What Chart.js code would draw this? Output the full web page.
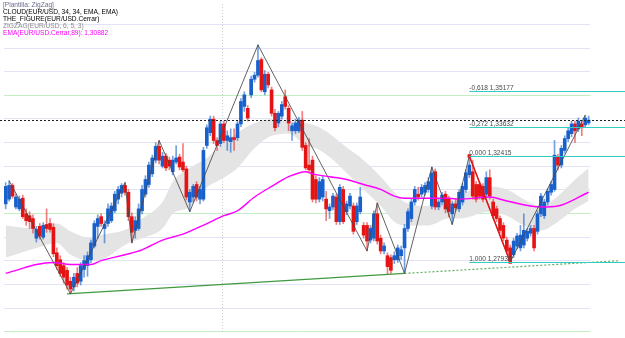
<!DOCTYPE html>
<html>
<head>
<meta charset="utf-8">
<title>ZigZag EUR/USD</title>
<script src="https://cdn.jsdelivr.net/npm/chart.js@4.4.1/dist/chart.umd.min.js"></script>
<style>
  html, body { margin: 0; padding: 0; background: #fff; }
  #wrap { position: relative; width: 625px; height: 338px; overflow: hidden; }
  #legend { position: absolute; left: 3px; top: 1px; font-family: "Liberation Sans", Arial, sans-serif; font-size: 6.6px; line-height: 7px; white-space: nowrap; }
</style>
</head>
<body>
<div id="wrap">
  <canvas id="chart" width="625" height="338"></canvas>
  <div id="legend">
    <div style="color:#6a6a8e">[Plantilla: ZigZag]</div>
    <div style="color:#000">CLOUD(EUR/USD, 34, 34, EMA, EMA)</div>
    <div style="color:#000">THE_FIGURE(EUR/USD.Cerrar)</div>
    <div style="color:#8a8a8a">ZIGZAG(EUR/USD, 6, 5, 3)</div>
    <div style="color:#ff00ff">EMA(EUR/USD.Cerrar,89): 1,30882</div>
  </div>
</div>
<script>
// candles (EUR/USD)
const opens = [
  1.3039, 1.3059, 1.3117, 1.3026, 1.3018, 1.3063, 1.2997, 1.2989, 1.2977, 1.2894,
  1.2944, 1.2898, 1.2952, 1.2956, 1.2940, 1.2832, 1.2803, 1.2778, 1.2758, 1.2712,
  1.2688, 1.2745, 1.2712, 1.2762, 1.2778, 1.2803, 1.2861, 1.2944, 1.2985, 1.2935,
  1.2956, 1.2968, 1.3010, 1.3059, 1.3084, 1.3117, 1.3088, 1.2985, 1.2927, 1.2935,
  1.3010, 1.3080, 1.3121, 1.3166, 1.3224, 1.3282, 1.3199, 1.3241, 1.3224, 1.3175,
  1.3216, 1.3237, 1.3216, 1.3187, 1.3047, 1.3068, 1.3121, 1.3059, 1.3059, 1.3286,
  1.3340, 1.3397, 1.3307, 1.3294, 1.3377, 1.3307, 1.3302, 1.3319, 1.3319, 1.3377,
  1.3451, 1.3443, 1.3500, 1.3566, 1.3583, 1.3649, 1.3513, 1.3587, 1.3521, 1.3422,
  1.3381, 1.3410, 1.3492, 1.3443, 1.3348, 1.3348, 1.3348, 1.3393, 1.3286, 1.3203,
  1.3224, 1.3142, 1.3059, 1.3068, 1.3059, 1.3010, 1.3026, 1.3068, 1.2964, 1.3100,
  1.3006, 1.3030, 1.3030, 1.2964, 1.3006, 1.2948, 1.2948, 1.2886, 1.2894, 1.2997,
  1.2894, 1.2840, 1.2820, 1.2812, 1.2803, 1.2803, 1.2820, 1.2853, 1.2935, 1.2977,
  1.3047, 1.3080, 1.3080, 1.3088, 1.3100, 1.3030, 1.3175, 1.3026, 1.3047, 1.3080,
  1.3059, 1.2997, 1.3039, 1.3018, 1.3047, 1.3100, 1.3162, 1.3175, 1.3121, 1.3121,
  1.3113, 1.3080, 1.3150, 1.3047, 1.3018, 1.2977, 1.2948, 1.2886, 1.2853, 1.2824,
  1.2861, 1.2853, 1.2865, 1.2894, 1.2915, 1.2935, 1.2923, 1.2997, 1.2989, 1.3047,
  1.3088, 1.3100, 1.3237, 1.3203, 1.3265, 1.3315, 1.3336, 1.3377, 1.3356, 1.3377,
  1.3373, 1.3381
];
const highs = [
  1.3129, 1.3137, 1.3125, 1.3080, 1.3072, 1.3076, 1.3018, 1.3006, 1.2993, 1.2944,
  1.2956, 1.2960, 1.3018, 1.2977, 1.2956, 1.2853, 1.2820, 1.2791, 1.2770, 1.2729,
  1.2745, 1.2770, 1.2791, 1.2820, 1.2836, 1.2886, 1.2968, 1.2993, 1.2997, 1.2968,
  1.3039, 1.3043, 1.3092, 1.3113, 1.3125, 1.3129, 1.3100, 1.3001, 1.2985, 1.3039,
  1.3117, 1.3158, 1.3216, 1.3245, 1.3298, 1.3307, 1.3257, 1.3253, 1.3237, 1.3241,
  1.3286, 1.3249, 1.3294, 1.3199, 1.3100, 1.3121, 1.3133, 1.3113, 1.3278, 1.3373,
  1.3410, 1.3410, 1.3319, 1.3389, 1.3389, 1.3348, 1.3356, 1.3356, 1.3389, 1.3484,
  1.3513, 1.3455, 1.3579, 1.3595, 1.3711, 1.3657, 1.3603, 1.3595, 1.3533, 1.3439,
  1.3430, 1.3472, 1.3521, 1.3455, 1.3381, 1.3397, 1.3406, 1.3430, 1.3298, 1.3315,
  1.3241, 1.3158, 1.3150, 1.3158, 1.3092, 1.3039, 1.3084, 1.3080, 1.3121, 1.3113,
  1.3051, 1.3084, 1.3043, 1.3043, 1.3109, 1.2960, 1.2960, 1.2948, 1.3010, 1.3043,
  1.2907, 1.2874, 1.2832, 1.2824, 1.2836, 1.2865, 1.2861, 1.2952, 1.3018, 1.3059,
  1.3113, 1.3109, 1.3121, 1.3129, 1.3150, 1.3195, 1.3187, 1.3059, 1.3088, 1.3092,
  1.3072, 1.3051, 1.3059, 1.3100, 1.3125, 1.3183, 1.32415, 1.3224, 1.3133, 1.3133,
  1.3125, 1.3175, 1.3183, 1.3059, 1.3030, 1.2989, 1.2960, 1.2898, 1.2865, 1.2894,
  1.2915, 1.2948, 1.2997, 1.2935, 1.2948, 1.2948, 1.3010, 1.3084, 1.3059, 1.3104,
  1.3133, 1.3307, 1.3249, 1.3286, 1.3327, 1.3361, 1.3389, 1.3389, 1.3402, 1.3389,
  1.3414, 1.3410
];
const lows = [
  1.3018, 1.3051, 1.3063, 1.3018, 1.3010, 1.2977, 1.2948, 1.2935, 1.2915, 1.2878,
  1.2890, 1.2890, 1.2919, 1.2919, 1.2816, 1.2762, 1.2733, 1.2704, 1.2679, 1.2659,
  1.2671, 1.2688, 1.2696, 1.2729, 1.2733, 1.2791, 1.2853, 1.2894, 1.2944, 1.2874,
  1.2944, 1.2960, 1.3001, 1.3039, 1.3068, 1.3076, 1.2968, 1.2874, 1.2894, 1.2927,
  1.2997, 1.3068, 1.3109, 1.3154, 1.3212, 1.3208, 1.3191, 1.3179, 1.3183, 1.3162,
  1.3208, 1.3183, 1.3175, 1.3055, 1.3006, 1.3047, 1.3051, 1.3039, 1.3051, 1.3274,
  1.3327, 1.3294, 1.3265, 1.3282, 1.3298, 1.3265, 1.3257, 1.3265, 1.3307, 1.3365,
  1.3430, 1.3389, 1.3488, 1.3554, 1.3575, 1.3513, 1.3500, 1.3529, 1.3410, 1.3348,
  1.3365, 1.3397, 1.3439, 1.3348, 1.3307, 1.3336, 1.3340, 1.3265, 1.3183, 1.3170,
  1.3047, 1.3043, 1.3047, 1.3051, 1.2968, 1.2977, 1.3014, 1.2952, 1.2952, 1.2956,
  1.2993, 1.3018, 1.2911, 1.2952, 1.2997, 1.2894, 1.2840, 1.2874, 1.2882, 1.2869,
  1.2828, 1.2828, 1.2741, 1.2745, 1.2787, 1.2791, 1.2803, 1.2745, 1.2923, 1.2964,
  1.3034, 1.3055, 1.3068, 1.3076, 1.3088, 1.3018, 1.3014, 1.3014, 1.3034, 1.3001,
  1.2985, 1.2952, 1.3010, 1.3006, 1.3034, 1.3088, 1.3150, 1.3059, 1.3047, 1.3059,
  1.3047, 1.3068, 1.3059, 1.2977, 1.2964, 1.2915, 1.2882, 1.2828, 1.27935, 1.2812,
  1.2849, 1.2840, 1.2853, 1.2882, 1.2903, 1.2840, 1.2911, 1.2985, 1.2977, 1.3034,
  1.3076, 1.3092, 1.3183, 1.3191, 1.3253, 1.3302, 1.3323, 1.3298, 1.3344, 1.3327,
  1.3361, 1.3373
];
const closes = [
  1.3113, 1.3117, 1.3072, 1.3068, 1.3059, 1.2985, 1.2968, 1.2964, 1.2935, 1.2931,
  1.2903, 1.2948, 1.2935, 1.2931, 1.2828, 1.2778, 1.2745, 1.2729, 1.2696, 1.2679,
  1.2729, 1.2704, 1.2778, 1.2799, 1.2820, 1.2874, 1.2956, 1.2977, 1.2956, 1.2952,
  1.3018, 1.3030, 1.3080, 1.3100, 1.3117, 1.3088, 1.2985, 1.2919, 1.2968, 1.3018,
  1.3100, 1.3142, 1.3203, 1.3233, 1.3282, 1.3224, 1.3241, 1.3191, 1.3199, 1.3224,
  1.3233, 1.3195, 1.3183, 1.3068, 1.3088, 1.3113, 1.3068, 1.3100, 1.3265, 1.3361,
  1.3397, 1.3307, 1.3286, 1.3377, 1.3307, 1.3327, 1.3319, 1.3311, 1.3377, 1.3472,
  1.3500, 1.3402, 1.3566, 1.3583, 1.3645, 1.3521, 1.3587, 1.3542, 1.3422, 1.3361,
  1.3422, 1.3459, 1.3451, 1.3381, 1.3369, 1.3381, 1.3393, 1.3278, 1.3191, 1.3183,
  1.3059, 1.3059, 1.3133, 1.3142, 1.3018, 1.3026, 1.3072, 1.2964, 1.3109, 1.2964,
  1.3039, 1.3072, 1.2923, 1.3030, 1.3068, 1.2907, 1.2882, 1.2935, 1.2997, 1.2882,
  1.2840, 1.2861, 1.2774, 1.2758, 1.2820, 1.2853, 1.2845, 1.2935, 1.3006, 1.3047,
  1.3100, 1.3068, 1.3109, 1.3117, 1.3133, 1.3170, 1.3026, 1.3047, 1.3076, 1.3018,
  1.3006, 1.3039, 1.3022, 1.3088, 1.3113, 1.3170, 1.3203, 1.3072, 1.3059, 1.3072,
  1.3059, 1.3150, 1.3072, 1.2989, 1.2977, 1.2927, 1.2894, 1.2840, 1.2799, 1.2882,
  1.2903, 1.2907, 1.2927, 1.2923, 1.2935, 1.2853, 1.2997, 1.3072, 1.3047, 1.3092,
  1.3121, 1.3245, 1.3203, 1.3274, 1.3315, 1.3348, 1.3377, 1.3348, 1.3389, 1.3361,
  1.3402, 1.3393
];
const extraSlots = 9; // empty space to the right of the last candle

// cloud band (EMA 34 highs / lows), sampled
const cloudIdx   = [0, 9, 15, 19, 25, 28, 36, 40, 46, 49, 54, 59, 64, 68, 73, 78, 83, 88, 91, 95, 100, 105, 110, 114, 117, 124, 130, 133, 142, 147, 152, 157, 162, 167, 171];
const cloudUpper = [1.2948, 1.2935, 1.2956, 1.2923, 1.2894, 1.2907, 1.2935, 1.2977, 1.3047, 1.3133, 1.3191, 1.3233, 1.3298, 1.3340, 1.3381, 1.3397, 1.3389, 1.3381, 1.3369, 1.3336, 1.3278, 1.3224, 1.3154, 1.3088, 1.3047, 1.3030, 1.3030, 1.3072, 1.3113, 1.3100, 1.3059, 1.3030, 1.3072, 1.3142, 1.3191];
const cloudLower = [1.2812, 1.2853, 1.2874, 1.2824, 1.2799, 1.2803, 1.2874, 1.2894, 1.2935, 1.2997, 1.3026, 1.3109, 1.3150, 1.3191, 1.3274, 1.3327, 1.3336, 1.3286, 1.3274, 1.3237, 1.3170, 1.3100, 1.3030, 1.2964, 1.2948, 1.2948, 1.2977, 1.2977, 1.3006, 1.2989, 1.2948, 1.2927, 1.2964, 1.3018, 1.3051];

// EMA(89)
const emaIdx = [0, 3, 9, 14, 19, 25, 28, 35, 40, 46, 52, 59, 64, 68, 73, 78, 83, 88, 90, 95, 100, 105, 110, 114, 117, 123, 130, 133, 142, 147, 157, 162, 171];
const emaVal = [1.2745, 1.2758, 1.2783, 1.2791, 1.2783, 1.2783, 1.2799, 1.2824, 1.2845, 1.2886, 1.2911, 1.2956, 1.2989, 1.3010, 1.3068, 1.3113, 1.3154, 1.3175, 1.3166, 1.3154, 1.3142, 1.3121, 1.3100, 1.3072, 1.3063, 1.3063, 1.3063, 1.3059, 1.3068, 1.3051, 1.3026, 1.3030, 1.30882];

// ZigZag pivots
const zigIdx = [1, 19, 35, 37, 45, 54, 74, 106, 109, 117, 125, 131, 136, 148, 170];
const zigVal = [1.3137, 1.2659, 1.3129, 1.2874, 1.3307, 1.3006, 1.3711, 1.2840, 1.3043, 1.2745, 1.3195, 1.2952, 1.32415, 1.27935, 1.3414];

// trend line through the lows
const trendIdx = [18, 117];
const trendVal = [1.2659, 1.2745];
const trendExtVal = 1.2799; // at the right edge

// Fibonacci levels of the last swing
const fibStart  = 136;
const fibEnd    = 148;
const fibRatios = [-0.618, -0.272, 0, 1];
const fibPrices = [1.35177, 1.33632, 1.32415, 1.27935];

// price axis
const yMin = 1.2489;
const yMax = 1.3884;
const gridLevels = [1.25, 1.26, 1.27, 1.28, 1.29, 1.30, 1.31, 1.32, 1.33, 1.34, 1.35, 1.36, 1.37, 1.38];
const periodBreak = 64; // dotted separator before this candle

const n = opens.length;
const labels = Array.from({ length: n + extraSlots }, (_, i) => i);
const isUp = opens.map((o, i) => closes[i] >= o);

function sparse(idx, vals) {
  const arr = labels.map(() => null);
  idx.forEach((k, j) => { arr[k] = vals[j]; });
  return arr;
}

const overlays = {
  id: 'overlays',
  beforeDatasetsDraw(chart) {
    const { ctx, chartArea, scales: { x, y } } = chart;
    const step = x.getPixelForValue(1) - x.getPixelForValue(0);
    const right = x.getPixelForValue(n - 1) + step / 2;
    ctx.save();
    ctx.lineWidth = 1;
    gridLevels.forEach(v => {
      const py = Math.round(y.getPixelForValue(v)) + 0.5;
      ctx.strokeStyle = Math.round(v * 100) % 5 === 0 ? '#c2eec2' : '#e3e3f7';
      ctx.beginPath();
      ctx.moveTo(chartArea.left, py);
      ctx.lineTo(right, py);
      ctx.stroke();
    });
    const sx = Math.round(x.getPixelForValue(periodBreak) - step / 2) + 0.5;
    ctx.strokeStyle = '#cccccc';
    ctx.setLineDash([1, 2]);
    ctx.beginPath();
    ctx.moveTo(sx, chartArea.top);
    ctx.lineTo(sx, chartArea.bottom);
    ctx.stroke();
    ctx.restore();
  },
  afterDatasetsDraw(chart) {
    const { ctx, scales: { x, y } } = chart;
    const x0 = x.getPixelForValue(fibStart);
    ctx.save();
    ctx.font = '6.6px "Liberation Sans", Arial, sans-serif';
    fibPrices.forEach((p, j) => {
      const py = Math.round(y.getPixelForValue(p)) + 0.5;
      ctx.setLineDash([]);
      ctx.lineWidth = 1.2;
      ctx.strokeStyle = '#33ccc2';
      ctx.beginPath();
      ctx.moveTo(x0, py);
      ctx.lineTo(chart.width, py);
      ctx.stroke();
      const txt = fibRatios[j].toFixed(3).replace('.', ',') + ' ' + p.toFixed(5).replace('.', ',');
      ctx.fillStyle = '#4a4a4a';
      ctx.fillText(txt, x0, py - 2);
    });
    // current price
    const cy = Math.round(y.getPixelForValue(closes[n - 1])) + 0.5;
    ctx.lineWidth = 1;
    ctx.strokeStyle = '#222';
    ctx.setLineDash([2, 2]);
    ctx.beginPath();
    ctx.moveTo(0, cy);
    ctx.lineTo(chart.width, cy);
    ctx.stroke();
    ctx.restore();
  }
};

new Chart(document.getElementById('chart'), {
  type: 'bar',
  data: {
    labels: labels,
    datasets: [
      {
        type: 'line', label: 'cloud top', data: sparse(cloudIdx, cloudUpper),
        borderWidth: 0, borderColor: 'rgba(0,0,0,0)', pointRadius: 0, spanGaps: true,
        cubicInterpolationMode: 'monotone', fill: '+1', backgroundColor: '#e4e4e4', order: 10
      },
      {
        type: 'line', label: 'cloud bottom', data: sparse(cloudIdx, cloudLower),
        borderWidth: 0, borderColor: 'rgba(0,0,0,0)', pointRadius: 0, spanGaps: true,
        cubicInterpolationMode: 'monotone', fill: false, order: 10
      },
      {
        label: 'wicks', data: lows.map((l, i) => [l, highs[i]]),
        backgroundColor: isUp.map(u => u ? 'rgba(24,96,204,0.6)' : 'rgba(228,20,20,0.55)'),
        barThickness: 1, grouped: false, borderWidth: 0, order: 8
      },
      {
        label: 'bodies', data: opens.map((o, i) => [o, closes[i]]),
        backgroundColor: isUp.map(u => u ? '#1860cc' : '#e41414'),
        barThickness: 3, grouped: false, borderWidth: 0, order: 7
      },
      {
        type: 'line', label: 'EMA 89', data: sparse(emaIdx, emaVal),
        borderColor: '#ff00ff', borderWidth: 1.4, pointRadius: 0, spanGaps: true,
        cubicInterpolationMode: 'monotone', fill: false, order: 5
      },
      {
        type: 'line', label: 'trend', data: sparse(trendIdx, trendVal),
        borderColor: '#3f9a3f', borderWidth: 1.2, pointRadius: 0, spanGaps: true, fill: false, order: 4
      },
      {
        type: 'line', label: 'trend ext', data: sparse([trendIdx[1], labels.length - 1], [trendVal[1], trendExtVal]),
        borderColor: '#5fae5f', borderWidth: 1.2, borderDash: [2, 2], pointRadius: 0, spanGaps: true,
        fill: false, clip: false, order: 4
      },
      {
        type: 'line', label: 'zigzag', data: sparse(zigIdx, zigVal),
        borderColor: 'rgba(70,70,70,0.85)', borderWidth: 1, pointRadius: 0, spanGaps: true, fill: false, order: 2
      },
      {
        type: 'line', label: 'swing', data: sparse([fibStart, fibEnd], [fibPrices[2], fibPrices[3]]),
        borderColor: '#e41414', borderWidth: 1.5, pointStyle: 'rect', pointRadius: 2.5,
        pointBackgroundColor: '#e41414', pointBorderWidth: 0, spanGaps: true, fill: false, order: 1
      }
    ]
  },
  options: {
    responsive: false,
    animation: false,
    devicePixelRatio: 1,
    layout: { padding: 0 },
    plugins: { legend: { display: false }, tooltip: { enabled: false } },
    scales: {
      x: { type: 'category', display: false, offset: true },
      y: { type: 'linear', display: false, min: yMin, max: yMax }
    }
  },
  plugins: [overlays]
});
</script>
</body>
</html>
